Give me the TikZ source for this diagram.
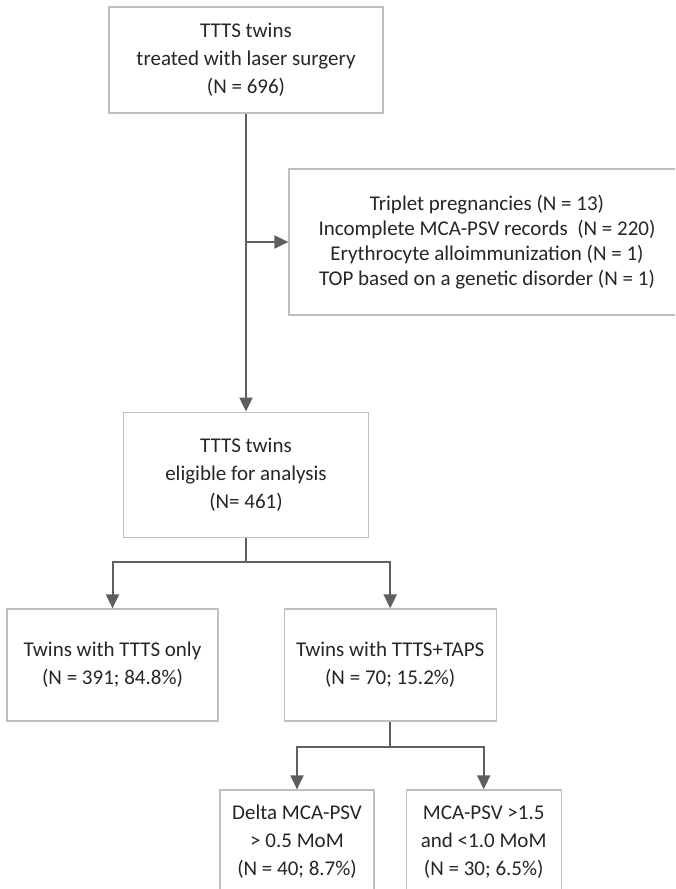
\documentclass[tikz,border=0pt]{standalone}
\usepackage{fontspec}
\setmainfont{Carlito}
\usetikzlibrary{arrows.meta,positioning}
\definecolor{Frame}{HTML}{BFBFBF}
\definecolor{Wire}{HTML}{5F5F5F}
\definecolor{Ink}{HTML}{262626}
\tikzset{
 box/.style={draw=Frame, line width=1.2pt, fill=white, align=center, inner sep=0pt, text=Ink, font=\fontsize{21}{28}\selectfont},
 wire/.style={draw=Wire, line width=2pt},
 arrow/.style={wire, -{Triangle[length=14pt,width=13pt]}}
}

\begin{document}
\begin{tikzpicture}[x=1pt,y=-1pt]
\clip (0,0) rectangle (675,889);
\node[box,minimum width=274pt,minimum height=106pt] (laser) at (246,60) {TTTS twins\\treated with laser surgery\\(N = 696)};
\node[box,minimum width=396pt,minimum height=146pt,font=\fontsize{21}{25}\selectfont] (excluded) at (487,242) {Triplet pregnancies (N = 13)\\Incomplete MCA-PSV records~~(N = 220)\\Erythrocyte alloimmunization (N = 1)\\TOP based on a genetic disorder (N = 1)};
\node[box,minimum width=245pt,minimum height=125pt,below=298pt of laser] (eligible) {TTTS twins\\eligible for analysis\\(N= 461)};
\node[box,minimum width=211pt,minimum height=112pt] (only) at (112.5,665) {Twins with TTTS only\\(N = 391; 84.8\%)};
\node[box,minimum width=212pt,minimum height=112pt,right=65pt of only] (taps) {Twins with TTTS+TAPS\\(N = 70; 15.2\%)};
\node[box,minimum width=154pt,minimum height=104pt] (delta) at (297,842) {Delta MCA-PSV\\> 0.5 MoM\\(N = 40; 8.7\%)};
\node[box,minimum width=155pt,minimum height=104pt,right=31pt of delta] (range) {MCA-PSV >1.5\\and <1.0 MoM\\(N = 30; 6.5\%)};
\draw[arrow] (laser) -- (eligible);
\draw[arrow] (laser.south |- excluded.west) -- (excluded);
\draw[wire] (eligible.south) -- ++(0,24) coordinate (fork);
\draw[arrow] (fork) -| (only.north);
\draw[arrow] (fork) -| (taps.north);
\draw[wire] (taps.south) -- ++(0,25) coordinate (split);
\draw[arrow] (split) -| (delta.north);
\draw[arrow] (split) -| (range.north);
\end{tikzpicture}
\end{document}
